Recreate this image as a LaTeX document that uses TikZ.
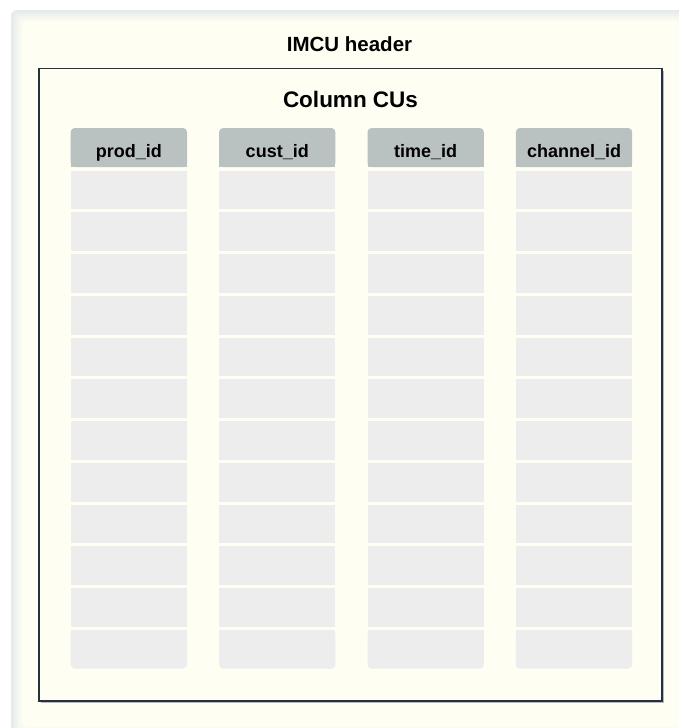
\documentclass[tikz,border=0pt]{standalone}
\usepackage{fontspec}
\setmainfont{Liberation Sans}

\definecolor{panelbg}{HTML}{FEFEF3}
\definecolor{panelshade}{HTML}{E6EAEC}
\definecolor{framecol}{HTML}{263040}
\definecolor{frameshadow}{HTML}{B4BAC0}
\definecolor{headcol}{HTML}{B9C2C0}
\definecolor{cellcol}{HTML}{EDEDED}

\begin{document}
\begin{tikzpicture}[x=1pt,y=-1pt,
  title/.style={font=\bfseries\fontsize{20.5}{24}\selectfont, anchor=base, inner sep=0pt},
  subtitle/.style={font=\bfseries\fontsize{22.5}{26}\selectfont, anchor=base, inner sep=0pt},
  colname/.style={font=\bfseries\fontsize{18}{21}\selectfont, anchor=base, inner sep=0pt}]
  \useasboundingbox[fill=white] (0,0) rectangle (679,728);

  % panel with soft inner shade
  \foreach \i in {0,...,8} {
    \pgfmathsetmacro{\pct}{100-\i*12.5}
    \fill[panelshade!\pct!panelbg, rounded corners=6] (11+\i*1.4,10+\i*1.4) rectangle (700,738-\i*1.4);
  }

  % inner frame
  \draw[frameshadow, line width=1.2] (41,702.6) -- (663.6,702.6) -- (663.6,70.5);
  \draw[framecol, fill=panelbg, line width=1.8] (39.3,68.5) rectangle (661.7,700.7);

  \node[title] (imcu) at (349.5,51) {IMCU header};
  \node[subtitle] (colcus) at (350.5,107.3) {Column CUs};

  % column CUs
  \foreach \name [count=\c from 0] in {prod\_id,cust\_id,time\_id,channel\_id} {
    \pgfmathsetmacro{\xl}{70.7+\c*148.4}
    \pgfmathsetmacro{\xr}{\xl+116.3}
    \fill[headcol, rounded corners=4] (\xl,128) rectangle (\xr,167);
    \fill[headcol] (\xl,140) rectangle (\xr,167);
    \node[colname] (head\c) at ({(\xl+\xr)/2},157.3) {\name};
    \foreach \r in {0,...,10}
      \fill[cellcol] (\xl,170.7+\r*41.75) rectangle (\xr,209.3+\r*41.75);
    \fill[cellcol, rounded corners=4] (\xl,170.7+11*41.75) rectangle (\xr,209.3+11*41.75);
    \fill[cellcol] (\xl,170.7+11*41.75) rectangle (\xr,195+11*41.75);
  }
\end{tikzpicture}
\end{document}
